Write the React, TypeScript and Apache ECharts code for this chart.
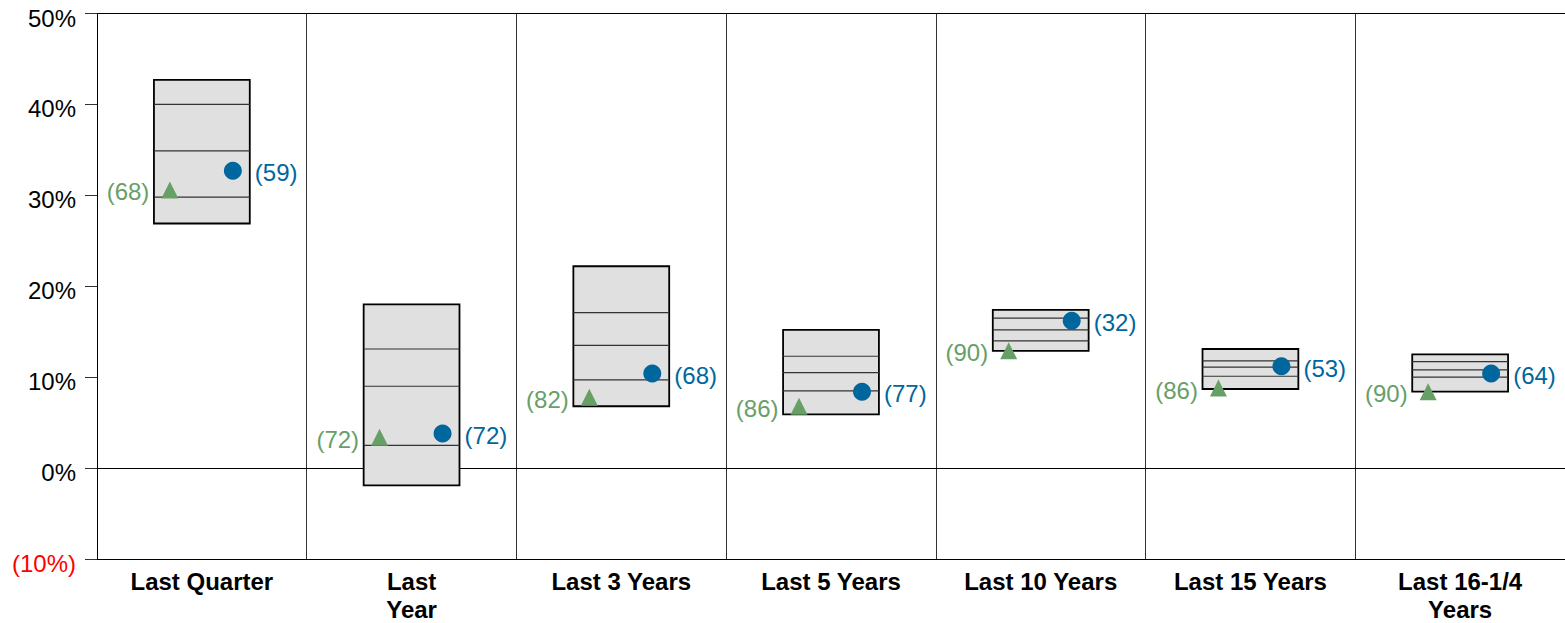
import React, { useEffect, useRef } from "react";
import * as echarts from "echarts";

const categories = [
  "Last Quarter",
  "Last\nYear",
  "Last 3 Years",
  "Last 5 Years",
  "Last 10 Years",
  "Last 15 Years",
  "Last 16-1/4\nYears",
];
const boxTop = [42.7, 18.0, 22.2, 15.2, 17.4, 13.1, 12.5];
const boxQ1 = [40.0, 13.1, 17.1, 12.3, 16.5, 11.8, 11.7];
const boxMedian = [34.9, 9.0, 13.5, 10.5, 15.2, 11.1, 10.8];
const boxQ3 = [29.8, 2.5, 9.7, 8.5, 14.0, 10.1, 10.0];
const boxBottom = [26.9, -1.9, 6.8, 5.9, 12.9, 8.7, 8.4];
const triangleValues = [30.6, 3.4, 7.8, 6.8, 12.9, 8.8, 8.4];
const triangleRanks = [68, 72, 82, 86, 90, 86, 90];
const circleValues = [32.7, 3.8, 10.4, 8.4, 16.2, 11.2, 10.4];
const circleRanks = [59, 72, 68, 77, 32, 53, 64];
const yMin = -10;
const yMax = 50;
const yInterval = 10;

const FONT = "'Liberation Sans', Arial, Helvetica, sans-serif";
const GREEN = "#67a067";
const BLUE = "#00669e";

export default function App() {
  const ref = useRef<HTMLDivElement>(null);
  useEffect(() => {
    document.body.style.margin = "0";
    const chart = echarts.init(ref.current!, null, { renderer: "svg" });
    const boxData = categories.map((_, i) => [
      i,
      boxTop[i],
      boxQ1[i],
      boxMedian[i],
      boxQ3[i],
      boxBottom[i],
    ]);
    chart.setOption({
      animation: false,
      grid: { left: 97, top: 13.5, width: 1470, height: 550 },
      xAxis: {
        type: "category",
        data: categories,
        boundaryGap: true,
        axisLine: { show: true, lineStyle: { color: "#000", width: 1 } },
        axisTick: { show: false },
        splitLine: { show: true, lineStyle: { color: "#333", width: 1 } },
        axisLabel: {
          interval: 0,
          margin: 8,
          fontFamily: FONT,
          fontSize: 24,
          fontWeight: "bold",
          color: "#000",
          lineHeight: 28,
        },
      },
      yAxis: {
        type: "value",
        min: yMin,
        max: yMax,
        interval: yInterval,
        axisLine: { show: true, lineStyle: { color: "#000", width: 1 } },
        axisTick: { show: true, length: 12, lineStyle: { color: "#333" } },
        splitLine: {
          show: true,
          lineStyle: {
            color: ["#000", "#555", "rgba(0,0,0,0)", "rgba(0,0,0,0)", "rgba(0,0,0,0)", "rgba(0,0,0,0)", "#000"],
            width: 1,
          },
        },
        axisLabel: {
          margin: 21,
          fontFamily: FONT,
          fontSize: 24,
          color: "#000",
          padding: [9, 0, 0, 0],
          formatter: (v: number) => (v < 0 ? `{neg|(${-v}%)}` : `${v}%`),
          rich: {
            neg: { color: "#ff0000", fontFamily: FONT, fontSize: 24 },
          },
        },
      },
      series: [
        {
          type: "custom",
          data: boxData,
          encode: { x: 0, y: [1, 2, 3, 4, 5] },
          z: 1,
          renderItem: (params: any, api: any) => {
            const idx = api.value(0);
            const top = api.coord([idx, api.value(1)]);
            const bottom = api.coord([idx, api.value(5)]);
            const w = api.size([1, 0])[0] * 0.457;
            const x0 = top[0] - w / 2;
            const lines = [2, 3, 4].map((k) => {
              const p = api.coord([idx, api.value(k)]);
              return {
                type: "line",
                shape: { x1: x0, y1: p[1], x2: x0 + w, y2: p[1] },
                style: { stroke: "#333", lineWidth: 1.2 },
              };
            });
            return {
              type: "group",
              children: [
                {
                  type: "rect",
                  shape: { x: x0, y: top[1], width: w, height: bottom[1] - top[1] },
                  style: { fill: "#e0e0e0", stroke: "#000", lineWidth: 1.8 },
                },
                ...lines,
              ],
            };
          },
        },
        {
          type: "scatter",
          z: 3,
          symbol: "triangle",
          symbolSize: 17,
          symbolOffset: [-32, 0],
          itemStyle: { color: GREEN, opacity: 1 },
          data: triangleValues.map((v, i) => [i, v]),
          label: {
            show: true,
            position: "left",
            distance: 12,
            offset: [0, 2],
            fontFamily: FONT,
            fontSize: 24,
            color: GREEN,
            formatter: (p: any) => `(${triangleRanks[p.dataIndex]})`,
          },
        },
        {
          type: "scatter",
          z: 3,
          symbol: "circle",
          symbolSize: 18,
          symbolOffset: [31, 0],
          itemStyle: { color: BLUE, opacity: 1 },
          data: circleValues.map((v, i) => [i, v]),
          label: {
            show: true,
            position: "right",
            distance: 13,
            offset: [0, 2],
            fontFamily: FONT,
            fontSize: 24,
            color: BLUE,
            formatter: (p: any) => `(${circleRanks[p.dataIndex]})`,
          },
        },
      ],
    });
    return () => chart.dispose();
  }, []);
  return <div ref={ref} style={{ width: 1565, height: 623 }} />;
}
